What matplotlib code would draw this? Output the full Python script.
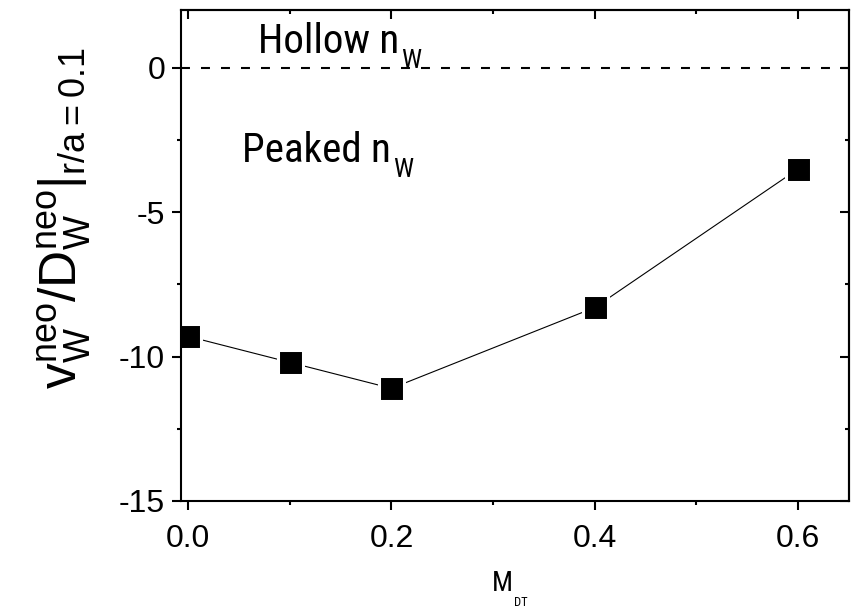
import os
import matplotlib
matplotlib.use("Agg")
import matplotlib.pyplot as plt
import matplotlib.font_manager as fm
from matplotlib.font_manager import FontProperties
from matplotlib.ticker import MultipleLocator

# ---- data ----
m_dt = [0.0, 0.1, 0.2, 0.4, 0.6]
v_over_d = [-9.3, -10.2, -11.1, -8.3, -3.5]
x_ticks = [0.0, 0.2, 0.4, 0.6]
x_tick_labels = ["0.0", "0.2", "0.4", "0.6"]
y_ticks = [0, -5, -10, -15]
y_tick_labels = ["0", "-5", "-10", "-15"]

plt.rcParams['font.family'] = ['Liberation Sans', 'DejaVu Sans']

# condensed font (Arial-Narrow-like) for annotations
narrow_file = None
for pref in ('RobotoCondensed-Regular.ttf', 'ArchivoNarrow[wght].ttf', 'PT_Sans-Narrow-Web-Regular.ttf'):
    for f in fm.fontManager.ttflist:
        if os.path.basename(f.fname) == pref:
            narrow_file = f.fname
            break
    if narrow_file:
        break


def nfp(size):
    if narrow_file:
        return FontProperties(fname=narrow_file, size=size)
    return FontProperties(family='DejaVu Sans', stretch='condensed', size=size)


W, H = 856, 608
fig = plt.figure(figsize=(W / 100, H / 100), dpi=100)
ax = fig.add_axes([181 / W, 1 - 501 / H, (849 - 181) / W, (501 - 10) / H])

ax.axhline(0, color='black', lw=1.5, dashes=(4.3, 5.3), zorder=1)
ax.plot(m_dt, v_over_d, color='black', lw=0.8, marker='s', ms=18,
        mfc='black', mec='white', mew=2.2, zorder=3)

ax.set_xlim(-0.007, 0.65)
ax.set_ylim(-15, 2)
ax.set_xticks(x_ticks)
ax.set_xticklabels(x_tick_labels)
ax.set_yticks(y_ticks)
ax.set_yticklabels(y_tick_labels)
ax.xaxis.set_minor_locator(MultipleLocator(0.1))
ax.yaxis.set_minor_locator(MultipleLocator(2.5))

for s in ax.spines.values():
    s.set_linewidth(1.5)
    s.set_zorder(4)

ax.tick_params(which='major', direction='out', length=6.5, width=1.5,
               labelsize=23, pad=4)
ax.tick_params(which='minor', direction='out', length=3.2, width=1.5)
ax.tick_params(axis='x', which='major', pad=10)
ax.tick_params(axis='y', which='major', pad=5)

secx = ax.secondary_xaxis('top')
secx.set_xticks(x_ticks)
secx.xaxis.set_minor_locator(MultipleLocator(0.1))
secx.tick_params(which='major', direction='in', length=6.5, width=1.5, labeltop=False)
secx.tick_params(which='minor', direction='in', length=3.2, width=1.5)
secx.spines['top'].set_linewidth(1.5)

secy = ax.secondary_yaxis('right')
secy.set_yticks(y_ticks)
secy.yaxis.set_minor_locator(MultipleLocator(2.5))
secy.tick_params(which='major', direction='in', length=6.5, width=1.5, labelright=False)
secy.tick_params(which='minor', direction='in', length=3.2, width=1.5)
secy.spines['right'].set_linewidth(1.5)

fig.canvas.draw()
renderer = fig.canvas.get_renderer()


def text_sub(x_px, base_px, main, sub, msize, ssize, drop_px, gap_px):
    t = fig.text(x_px / W, 1 - base_px / H, main, fontproperties=nfp(msize),
                 ha='left', va='baseline')
    ext = t.get_window_extent(renderer)
    fig.text((ext.x1 + gap_px) / W, 1 - (base_px + drop_px) / H, sub,
             fontproperties=nfp(ssize), ha='left', va='baseline')


text_sub(258, 53, 'Hollow n', 'W', 29.5, 19, 15, 2)
text_sub(242, 162, 'Peaked n', 'W', 29.5, 19, 15, 2)
text_sub(492, 591, 'M', 'DT', 20, 9, 15, 1)

fig.text(64 / W, 1 - 218 / H,
         r'$\mathregular{v_W^{neo}/D_W^{neo}|_{r/a{=}0.1}}$',
         fontsize=37, rotation=90, ha='center', va='center')

fig.savefig('out.png', dpi=100)
